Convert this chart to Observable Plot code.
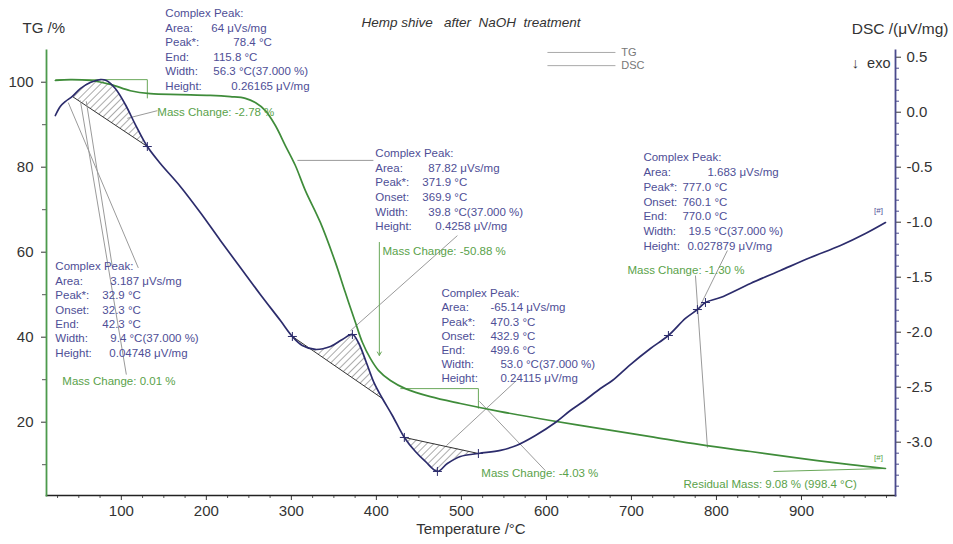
<!DOCTYPE html>
<html><head><meta charset="utf-8">
<script src="https://cdn.jsdelivr.net/npm/d3@7"></script>
<script src="https://cdn.jsdelivr.net/npm/@observablehq/plot@0.6"></script>
<style>
html,body{margin:0;padding:0;background:#fff;}
#chart svg text{white-space:pre;}
</style></head><body><div id="chart"></div>
<script>
// ---------- data (Temperature °C, TG %, DSC µV/mg) ----------
const dscTemp = [22.4,28.2,34.1,42.4,51.8,63.5,75.3,82.4,92.9,104.7,116.5,130.6,145.9,169.4,192.9,216.5,240.0,263.5,287.1,301.2,312.9,328.2,345.9,360.0,371.8,378.8,388.2,397.6,407.1,418.8,432.9,445.9,457.6,471.8,483.5,498.8,520.0,545.9,564.7,587.1,610.6,628.2,643.5,663.5,677.6,698.8,722.4,743.5,763.5,777.6,787.1,804.7,840.0,875.3,910.6,945.9,975.3,998.8];
const dscValue = [-0.030,0.052,0.097,0.143,0.215,0.270,0.297,0.288,0.215,0.070,-0.112,-0.312,-0.466,-0.675,-0.912,-1.166,-1.412,-1.657,-1.894,-2.039,-2.121,-2.157,-2.130,-2.066,-2.021,-2.094,-2.275,-2.466,-2.603,-2.757,-2.957,-3.085,-3.175,-3.266,-3.194,-3.130,-3.103,-3.075,-3.030,-2.939,-2.821,-2.712,-2.630,-2.512,-2.439,-2.294,-2.148,-2.030,-1.875,-1.794,-1.730,-1.685,-1.557,-1.439,-1.321,-1.212,-1.103,-1.003];
const tgTemp = [22.4,40.0,63.5,87.1,110.6,134.1,169.4,204.7,228.2,245.9,257.6,269.4,281.2,292.9,304.7,316.5,334.1,351.8,363.5,375.3,383.5,392.9,402.4,416.5,434.1,463.5,498.8,545.9,604.7,663.5,722.4,781.2,840.0,898.8,957.6,998.8];
const tgValue = [100.4,100.6,100.4,99.5,98.0,97.3,97.1,96.9,96.6,96.2,95.2,93.3,89.8,85.1,80.4,74.5,67.0,57.6,50.5,43.5,38.8,35.0,32.2,29.8,27.9,26.0,24.4,22.5,20.4,18.5,16.6,14.7,13.1,11.5,10.0,9.1];

// hatched peak integrations: [start °C, end °C]
const peakRanges = [[42.4,130.6],[301.2,407.1],[432.9,520.0]];
// characteristic temperatures marked with "+" on the DSC curve
const markerTemps = [130.6,371.8,301.2,432.9,471.8,520.0,743.5,777.6,787.1];

// ticks
const xTicks = [100,200,300,400,500,600,700,800,900];
const xMinorTicks = [25,50,75,125,150,175,225,250,275,325,350,375,425,450,475,525,550,575,625,650,675,725,750,775,825,850,875,925,950,975,1000];
const tgTicks = [20,40,60,80,100];
const tgMinorTicks = [10,30,50,70,90];
const dscTicks = [0.5,0.0,-0.5,-1.0,-1.5,-2.0,-2.5,-3.0];
const dscMinorTicks = [0.4,0.3,0.2,0.1,-0.1,-0.2,-0.3,-0.4,-0.6,-0.7,-0.8,-0.9,-1.1,-1.2,-1.3,-1.4,-1.6,-1.7,-1.8,-1.9,-2.1,-2.2,-2.3,-2.4,-2.6,-2.7,-2.8,-2.9,-3.1,-3.2,-3.3,-3.4];

// annotation texts
const blockLabels = [
  ["Complex Peak:","Area:","Peak*:","End:","Width:","Height:"],
  ["Complex Peak:","Area:","Peak*:","Onset:","End:","Width:","Height:"],
  ["Complex Peak:","Area:","Peak*:","Onset:","Width:","Height:"],
  ["Complex Peak:","Area:","Peak*:","Onset:","End:","Width:","Height:"],
  ["Complex Peak:","Area:","Peak*:","Onset:","End:","Width:","Height:"]
];
const blockValues = [
  ["","64 μVs/mg","78.4 °C","115.8 °C","56.3 °C(37.000 %)","0.26165 μV/mg"],
  ["","3.187 μVs/mg","32.9 °C","32.3 °C","42.3 °C","9.4 °C(37.000 %)","0.04748 μV/mg"],
  ["","87.82 μVs/mg","371.9 °C","369.9 °C","39.8 °C(37.000 %)","0.4258 μV/mg"],
  ["","1.683 μVs/mg","777.0 °C","760.1 °C","770.0 °C","19.5 °C(37.000 %)","0.027879 μV/mg"],
  ["","-65.14 μVs/mg","470.3 °C","432.9 °C","499.6 °C","53.0 °C(37.000 %)","0.24115 μV/mg"]
];
const blockAnchorT = [151.8, 22.4, 398.8, 714.1, 476.5];
const blockAnchorTG = [116.2, 56.6, 83.2, 82.3, 50.3];
const massTexts = ["Mass Change: -2.78 %","Mass Change: 0.01 %","Mass Change: -50.88 %","Mass Change: -1.30 %","Mass Change: -4.03 %","Residual Mass: 9.08 % (998.4 °C)"];
const massT = [142.4, 30.6, 407.1, 695.3, 523.5, 761.2];
const massTG = [92.85, 29.6, 60.1, 55.7, 7.9, 5.5];

// leader lines (°C, TG %)
const leaderLines = [
  [37.6,95.2,120.0,56.3],[51.8,95.7,105.9,31.2],[58.8,95.5,89.4,56.6],
  [107.1,91.5,142.4,93.3],
  [307.1,81.6,396.5,81.6],[369.4,41.5,495.3,63.9],
  [482.4,14.5,564.7,29.8],[521.2,24.9,598.8,8.6],
  [812.9,60.4,781.2,47.5],[775.3,54.5,789.4,14.0]
];
const stepLines = [
  [22.4,100.6,130.6,100.6],[130.6,100.6,130.6,96.2],
  [428.2,27.9,520.0,27.9],[520.0,27.9,520.0,23.2],
  [867.1,8.4,998.8,9.1]
];
const stepArrows = [[403.5,62.3,403.5,35.7]];

// ---------- build ----------
const TG_COLOR = "#3f8c3a", DSC_COLOR = "#2c2c6c", NAVY_TXT = "#4e4e96", GREEN_TXT = "#5aa24a", LEAD = "#9a9a9a";
const dscToTG = v => 92.941 + 25.882 * v;   // secondary (right) axis mapping
const tgFromDsc = t => (t - 92.941) / 25.882;

const dsc = dscTemp.map((T, i) => ({T, v: dscValue[i]}));
const tg = tgTemp.map((T, i) => ({T, v: tgValue[i]}));

function hatchData([a, b]) {
  const pts = dsc.filter(d => d.T >= a - 1e-6 && d.T <= b + 1e-6);
  const p0 = pts[0], p1 = pts[pts.length - 1];
  return pts.map(d => ({T: d.T, c: d.v, b: p0.v + (p1.v - p0.v) * (d.T - p0.T) / (p1.T - p0.T)}));
}
const hatches = peakRanges.map(hatchData);
const markerPts = dsc.filter(d => markerTemps.some(t => Math.abs(t - d.T) < 1e-6));

const font = "Liberation Sans, Arial, sans-serif";
const marks = [];

hatches.forEach(h => {
  marks.push(Plot.areaY(h, {x: "T", y1: d => dscToTG(d.b), y2: d => dscToTG(d.c), fill: "url(#hatch)", curve: "catmull-rom"}));
  marks.push(Plot.link([h], {x1: d => d[0].T, y1: d => dscToTG(d[0].b), x2: d => d[d.length-1].T, y2: d => dscToTG(d[d.length-1].b), stroke: "#333", strokeWidth: 1}));
});

marks.push(Plot.link(leaderLines, {x1: d => d[0], y1: d => d[1], x2: d => d[2], y2: d => d[3], stroke: LEAD, strokeWidth: 1}));
marks.push(Plot.link(stepLines, {x1: d => d[0], y1: d => d[1], x2: d => d[2], y2: d => d[3], stroke: "#6aa85a", strokeWidth: 1}));
marks.push(Plot.arrow(stepArrows, {x1: d => d[0], y1: d => d[1], x2: d => d[2], y2: d => d[3], stroke: "#6aa85a", strokeWidth: 1, headLength: 6}));

marks.push(Plot.line(tg, {x: "T", y: "v", stroke: TG_COLOR, strokeWidth: 1.7, curve: "catmull-rom"}));
marks.push(Plot.line(dsc, {x: "T", y: d => dscToTG(d.v), stroke: DSC_COLOR, strokeWidth: 1.7, curve: "catmull-rom"}));
marks.push(Plot.dot(markerPts, {x: "T", y: d => dscToTG(d.v), symbol: "plus", r: 3, stroke: DSC_COLOR, strokeWidth: 1}));

// axes
marks.push(Plot.axisX({ticks: xTicks, tickSize: 5, tickPadding: 5, label: null, color: "#333", fontSize: 15}));
marks.push(Plot.axisX({ticks: xMinorTicks, tickSize: 3, tickFormat: () => "", label: null, color: "#555"}));
marks.push(Plot.axisY({anchor: "left", ticks: tgTicks, tickSize: 5, tickPadding: 8, label: null, color: "#333", fontSize: 15}));
marks.push(Plot.axisY({anchor: "left", ticks: tgMinorTicks, tickSize: 4, tickFormat: () => "", label: null, color: "#555"}));
marks.push(Plot.axisY({anchor: "right", ticks: dscTicks.map(dscToTG), tickSize: 5, tickPadding: 6, label: null, color: "#333", fontSize: 15,
  tickFormat: d => { const r = Math.round(tgFromDsc(d) * 10) / 10; return (r === 0 ? 0 : r).toFixed(1); }}));
marks.push(Plot.axisY({anchor: "right", ticks: dscMinorTicks.map(dscToTG), tickSize: 3, tickFormat: () => "", label: null, color: "#4a4a8c"}));

marks.push(Plot.frame({anchor: "bottom", stroke: "#222", strokeWidth: 1.5}));
marks.push(Plot.frame({anchor: "left", stroke: "#4d9a4d", strokeWidth: 1.8}));
marks.push(Plot.frame({anchor: "right", stroke: "#4a4a8c", strokeWidth: 1.8}));

// annotation blocks
const valueDx = [
  [0,46,68,48,48,66],
  [0,55,47,47,47,55,54],
  [0,53,47,47,53,60],
  [0,64,39,39,39,45,44],
  [0,49,49,49,49,59,59]
];
const rowStep = [14.6, 14.4, 14.6, 14.8, 14.2];
blockLabels.forEach((labels, k) => {
  const anchor = [{T: blockAnchorT[k], v: blockAnchorTG[k]}];
  labels.forEach((lab, i) => {
    marks.push(Plot.text(anchor, {x: "T", y: "v", text: () => lab, dy: i * rowStep[k], textAnchor: "start", fill: NAVY_TXT, fontSize: 11.5}));
    const val = blockValues[k][i];
    if (val) marks.push(Plot.text(anchor, {x: "T", y: "v", text: () => val, dx: valueDx[k][i], dy: i * rowStep[k], textAnchor: "start", fill: NAVY_TXT, fontSize: 11.5}));
  });
});
marks.push(Plot.text(massTexts.map((t, i) => ({t, T: massT[i], v: massTG[i]})), {x: "T", y: "v", text: "t", textAnchor: "start", fill: GREEN_TXT, fontSize: 11.5}));
marks.push(Plot.text([{T: 998.8, v: dscToTG(-1.003)}], {x: "T", y: "v", text: () => "[#]", dx: -7, dy: -12, fill: NAVY_TXT, fontSize: 8}));
marks.push(Plot.text([{T: 998.8, v: 9.1}], {x: "T", y: "v", text: () => "[#]", dx: -7, dy: -11, fill: GREEN_TXT, fontSize: 8}));

// legend
const legendNames = ["TG", "DSC"];
const legendTG = [107.0, 103.9];
marks.push(Plot.link(legendNames.map((n, i) => ({n, v: legendTG[i]})), {x1: 601.2, x2: 681.2, y1: "v", y2: "v", stroke: "#aaa", strokeWidth: 1}));
marks.push(Plot.text(legendNames.map((n, i) => ({n, v: legendTG[i]})), {x: () => 688, y: "v", text: "n", textAnchor: "start", fill: "#777", fontSize: 11}));

// titles
marks.push(Plot.text(["TG /%"], {frameAnchor: "top-left", dx: -24, dy: -28, textAnchor: "start", fontSize: 15, fill: "#333"}));
marks.push(Plot.text(["DSC /(μV/mg)"], {frameAnchor: "top-right", dx: 53, dy: -28, textAnchor: "end", fontSize: 15.5, fill: "#333"}));
marks.push(Plot.text(["↓  exo"], {frameAnchor: "top-right", dx: -5, dy: 7, textAnchor: "end", fontSize: 14.5, fill: "#333"}));
marks.push(Plot.text(["Hemp shive   after  NaOH  treatment"], {frameAnchor: "top", dx: 0, dy: -33, fontSize: 13.5, fontStyle: "italic", fill: "#333"}));
marks.push(Plot.text(["Temperature /°C"], {frameAnchor: "bottom", dx: 0, dy: 38, fontSize: 15, fill: "#333"}));

const plot = Plot.plot({
  width: 953, height: 544,
  marginLeft: 46, marginRight: 58, marginTop: 50, marginBottom: 49,
  x: {domain: [12, 1010.6]},
  y: {domain: [2.75, 107.46]},
  style: {fontFamily: font, fontSize: "15px", background: "#fff", overflow: "visible"},
  marks
});
const svg = d3.select(plot);
const pat = svg.insert("defs", ":first-child").append("pattern")
  .attr("id", "hatch").attr("patternUnits", "userSpaceOnUse")
  .attr("width", 5).attr("height", 5).attr("patternTransform", "rotate(45)");
pat.append("line").attr("x1", 0).attr("y1", 0).attr("x2", 0).attr("y2", 5).attr("stroke", "#444").attr("stroke-width", 0.9);
document.getElementById("chart").appendChild(plot);
</script></body></html>
